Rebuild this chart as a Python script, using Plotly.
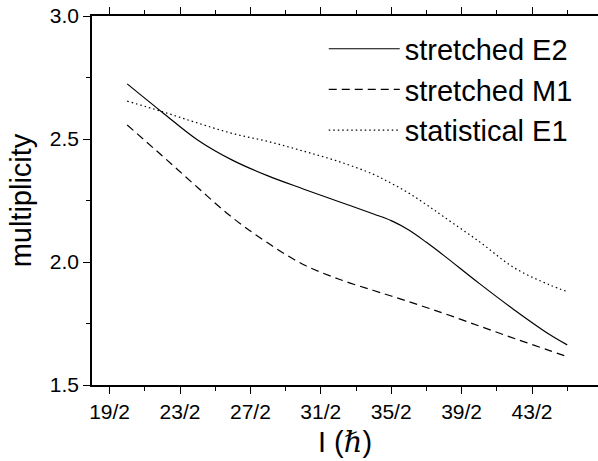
import plotly.graph_objects as go

# spin I (in units of hbar, numeric)
spin = [10, 11, 12, 13, 14, 15, 16, 17, 17.5, 18, 18.5, 19, 20, 21, 22, 22.5]

stretched_e2 = [2.724, 2.608, 2.496, 2.413, 2.350, 2.297, 2.246, 2.195, 2.168, 2.130, 2.080, 2.026, 1.913, 1.805, 1.705, 1.663]
stretched_m1 = [2.557, 2.431, 2.303, 2.179, 2.077, 1.990, 1.931, 1.884, 1.862, 1.839, 1.815, 1.791, 1.740, 1.689, 1.640, 1.615]
statistical_e1 = [2.654, 2.611, 2.565, 2.522, 2.490, 2.451, 2.409, 2.356, 2.320, 2.280, 2.233, 2.183, 2.083, 1.976, 1.907, 1.880]

x_tickvals = [9.5, 11.5, 13.5, 15.5, 17.5, 19.5, 21.5]
x_ticktext = ["19/2", "23/2", "27/2", "31/2", "35/2", "39/2", "43/2"]
x_minorvals = [8.5, 9.5, 10.5, 11.5, 12.5, 13.5, 14.5, 15.5, 16.5, 17.5, 18.5, 19.5, 20.5, 21.5, 22.5, 23.5]
y_tickvals = [1.5, 2.0, 2.5, 3.0]
y_minorvals = [1.75, 2.25, 2.75]

series = [
    ("stretched E2", stretched_e2, "solid"),
    ("stretched M1", stretched_m1, "8px,5px"),
    ("statistical E1", statistical_e1, "1.5px,3px"),
]

fig = go.Figure()
for name, vals, dash in series:
    fig.add_trace(go.Scatter(
        x=spin, y=vals, name=name, mode="lines",
        line=dict(color="black", width=1.2, dash=dash, shape="spline", smoothing=1.0),
    ))

font_family = "Arial, Liberation Sans, sans-serif"

fig.update_layout(
    width=598, height=461,
    margin=dict(l=92, r=0, t=16, b=76),
    paper_bgcolor="white", plot_bgcolor="white",
    font=dict(family=font_family, color="black"),
    showlegend=True,
    legend=dict(
        x=0.458, y=0.98, xanchor="left", yanchor="top",
        font=dict(size=29, family=font_family, color="black"),
        bgcolor="rgba(0,0,0,0)", itemwidth=71, tracegroupgap=0,
    ),
    xaxis=dict(
        range=[9.0, 23.375],
        tickmode="array", tickvals=x_tickvals, ticktext=x_ticktext,
        ticks="outside", ticklen=7, tickwidth=1.2, tickcolor="black",
        minor=dict(tickmode="array", tickvals=x_minorvals, ticks="outside", ticklen=4, tickwidth=1.2, tickcolor="black"),
        showline=True, linecolor="black", linewidth=1.5, mirror="ticks",
        showgrid=False, zeroline=False,
        tickfont=dict(size=21, family=font_family, color="black"),
        title=dict(
            text="I (<span style=\"font-family:'Liberation Serif', 'DejaVu Serif', serif\"><i>ℏ</i></span>)",
            font=dict(size=29, family=font_family, color="black"), standoff=10,
        ),
    ),
    yaxis=dict(
        range=[1.5, 3.0],
        tickmode="array", tickvals=y_tickvals, tickformat=".1f",
        ticks="outside", ticklen=7, tickwidth=1.2, tickcolor="black",
        minor=dict(tickmode="array", tickvals=y_minorvals, ticks="outside", ticklen=4, tickwidth=1.2, tickcolor="black"),
        showline=True, linecolor="black", linewidth=1.5,
        showgrid=False, zeroline=False,
        tickfont=dict(size=21, family=font_family, color="black"),
        title=dict(text="multiplicity", font=dict(size=29, family=font_family, color="black"), standoff=10),
    ),
)

fig.write_html("out.html")
